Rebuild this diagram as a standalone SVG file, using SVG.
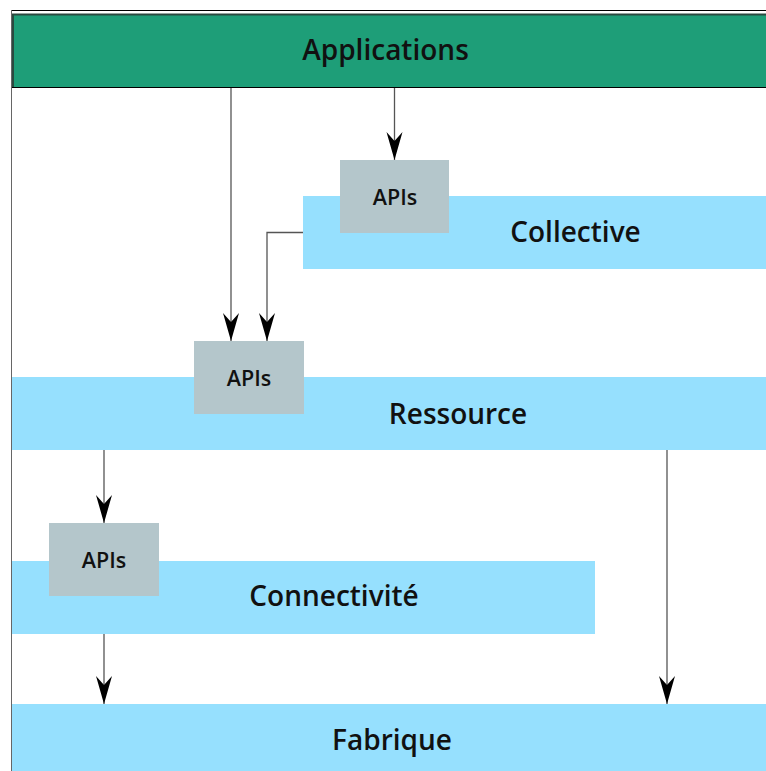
<svg xmlns="http://www.w3.org/2000/svg" width="766" height="771" viewBox="0 0 766 771">
<style>
.layer{fill:#96e0fe}
.api{fill:#b4c6cb}
.t{font-family:"Open Sans","Noto Sans","Liberation Sans",sans-serif;font-weight:600;fill:#111;text-anchor:middle}
.big{font-size:28px}
.small{font-size:21.5px}
.c{fill:none;stroke:#555;stroke-width:1.3}
</style>
<defs>
<marker id="ah" markerUnits="userSpaceOnUse" markerWidth="30" markerHeight="18" viewBox="-29 -9 30 18" refX="0" refY="0" orient="auto">
<path d="M0,0 L-28,-8 L-19,0 L-28,8 Z" fill="#000"/>
</marker>
</defs>
<rect x="0" y="0" width="766" height="771" fill="#fff"/>
<line x1="11" y1="10.5" x2="766" y2="10.5" stroke="#000" stroke-width="1"/>
<line x1="11.5" y1="10" x2="11.5" y2="771" stroke="#666" stroke-width="1"/>
<g id="applications">
<rect x="12" y="14" width="754" height="73.5" fill="#1e9e78"/>
<line x1="12" y1="14.5" x2="766" y2="14.5" stroke="#2a4a40" stroke-width="2"/>
<line x1="13" y1="14" x2="13" y2="87.5" stroke="#2a4a40" stroke-width="2"/>
<line x1="12" y1="87.5" x2="766" y2="87.5" stroke="#000" stroke-width="1"/>
<text class="t big" x="385.5" y="60">Applications</text>
</g>
<g id="collective">
<rect class="layer" x="303" y="196" width="463" height="73"/>
<text class="t big" x="575.5" y="242">Collective</text>
</g>
<g id="collective-apis">
<rect class="api" x="340" y="160" width="109" height="73"/>
<text class="t small" x="395" y="205">APIs</text>
</g>
<g id="ressource">
<rect class="layer" x="12" y="377" width="754" height="73"/>
<text class="t big" x="458" y="424">Ressource</text>
</g>
<g id="ressource-apis">
<rect class="api" x="194" y="341" width="110" height="73"/>
<text class="t small" x="249" y="386">APIs</text>
</g>
<g id="connectivite">
<rect class="layer" x="12" y="561" width="583" height="73"/>
<text class="t big" x="334" y="606">Connectivité</text>
</g>
<g id="connectivite-apis">
<rect class="api" x="49" y="523" width="110" height="73"/>
<text class="t small" x="104" y="568">APIs</text>
</g>
<g id="fabrique">
<rect class="layer" x="12" y="704" width="754" height="67"/>
<text class="t big" x="392" y="750">Fabrique</text>
</g>
<g id="connectors">
<path class="c" d="M231,88 V341" marker-end="url(#ah)"/>
<path class="c" d="M394.5,88 V160" marker-end="url(#ah)"/>
<path class="c" d="M303,232.5 H267 V341" marker-end="url(#ah)"/>
<path class="c" d="M104,450 V523" marker-end="url(#ah)"/>
<path class="c" d="M104,634 V704" marker-end="url(#ah)"/>
<path class="c" d="M667,450 V704" marker-end="url(#ah)"/>
</g>
</svg>
